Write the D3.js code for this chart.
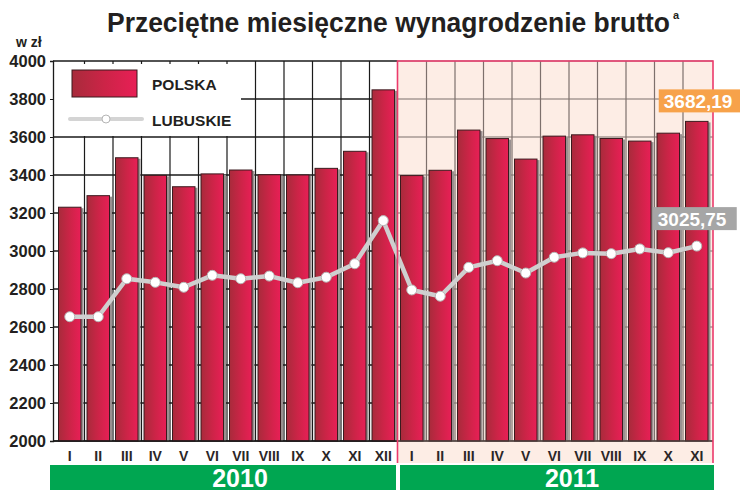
<!DOCTYPE html>
<html>
<head>
<meta charset="utf-8">
<script src="https://cdn.jsdelivr.net/npm/d3@7"></script>
<style>
  body { margin: 0; background: #fff; }
  svg { display: block; font-family: "Liberation Sans", Arial, sans-serif; }
</style>
</head>
<body>
<svg id="chart" width="740" height="490"></svg>
<script>
// data
const months = ["I","II","III","IV","V","VI","VII","VIII","IX","X","XI","XII",
                "I","II","III","IV","V","VI","VII","VIII","IX","X","XI"];
const years = ["2010", "2011"];
const polska = [3230.41, 3291.21, 3490.76, 3397.95, 3338.25, 3405.80, 3426.23, 3401.40, 3400.13, 3435.01, 3524.73, 3848.13,
                3396.94, 3424.83, 3636.42, 3591.73, 3483.74, 3604.56, 3611.52, 3592.23, 3578.43, 3620.11, 3682.19];
const lubuskie = [2654, 2654, 2854, 2835, 2809, 2872, 2854, 2868, 2833, 2862, 2933, 3160,
                  2795, 2762, 2914, 2949, 2884, 2967, 2990, 2986, 3011, 2991, 3025.75];
const yTicks = [2000, 2200, 2400, 2600, 2800, 3000, 3200, 3400, 3600, 3800, 4000];
const lastPolska = "3682,19";
const lastLubuskie = "3025,75";

const svg = d3.select("#chart");
const pLeft = 53, pRight = 713, pTop = 61, pBottom = 441;

const idx = d3.range(months.length);
const x = d3.scaleBand().domain(idx).range([55.5, 711]).padding(0);
const y = d3.scaleLinear().domain([2000, 4000]).range([pBottom, pTop]);
const step = x.step();
const split = x(12); // start of 2011

// gradient for the bars
const defs = svg.append("defs");
const grad = defs.append("linearGradient").attr("id", "barGrad")
  .attr("x1", 0).attr("x2", 1).attr("y1", 0).attr("y2", 0);
grad.append("stop").attr("offset", "0%").attr("stop-color", "#a82b3b");
grad.append("stop").attr("offset", "50%").attr("stop-color", "#cc2447");
grad.append("stop").attr("offset", "100%").attr("stop-color", "#e81f56");

// 2011 background
svg.append("rect")
  .attr("x", split).attr("y", pTop)
  .attr("width", pRight - split).attr("height", 463 - pTop)
  .attr("fill", "#fdede5");

// horizontal grid
const grid = svg.append("g");
yTicks.forEach(t => {
  grid.append("line")
    .attr("x1", pLeft).attr("x2", split)
    .attr("y1", y(t)).attr("y2", y(t))
    .attr("stroke", "#1a1a1a").attr("stroke-width", 1.3);
  grid.append("line")
    .attr("x1", split).attr("x2", pRight)
    .attr("y1", y(t)).attr("y2", y(t))
    .attr("stroke", "#7d706c").attr("stroke-width", 1.2);
});

// vertical grid at month boundaries
idx.slice(1).forEach(i => {
  if (i == 12) return;
  grid.append("line")
    .attr("x1", x(i) + 0.5).attr("x2", x(i) + 0.5)
    .attr("y1", pTop).attr("y2", pBottom)
    .attr("stroke", i < 12 ? "#1a1a1a" : "#7d706c")
    .attr("stroke-width", 1.2);
});

// legend box hides the grid behind it
svg.append("rect")
  .attr("x", pLeft + 1).attr("y", 64)
  .attr("width", 187).attr("height", 72)
  .attr("fill", "#fff");

// bars
const barW = 22.5;
svg.append("g").selectAll("rect")
  .data(idx).enter().append("rect")
  .attr("x", i => x(i) + step / 2 - barW / 2 + 2.5)
  .attr("y", i => y(polska[i]) + 1)
  .attr("width", barW)
  .attr("height", i => pBottom - y(polska[i]) - 1)
  .attr("fill", "#9a9090");

svg.append("g").selectAll("rect")
  .data(idx).enter().append("rect")
  .attr("x", i => x(i) + step / 2 - barW / 2)
  .attr("y", i => y(polska[i]))
  .attr("width", barW)
  .attr("height", i => pBottom - y(polska[i]))
  .attr("fill", "url(#barGrad)")
  .attr("stroke", "#3b1a1e")
  .attr("stroke-width", 1);

// y axis
const yAxis = svg.append("g")
  .attr("transform", `translate(${pLeft},0)`)
  .call(d3.axisLeft(y).tickValues(yTicks).tickFormat(d3.format("d")).tickSize(3).tickPadding(4));
yAxis.select(".domain").attr("stroke", "#1a1a1a").attr("stroke-width", 1.3);
yAxis.selectAll(".tick line").attr("stroke", "#1a1a1a");
yAxis.selectAll("text")
  .attr("font-family", "'Liberation Sans', Arial, sans-serif")
  .attr("font-size", 16.5).attr("font-weight", "bold").attr("fill", "#231f20");

// bottom line
svg.append("line")
  .attr("x1", pLeft).attr("x2", split).attr("y1", pBottom).attr("y2", pBottom)
  .attr("stroke", "#1a1a1a").attr("stroke-width", 1.3);
svg.append("line")
  .attr("x1", split).attr("x2", pRight).attr("y1", pBottom).attr("y2", pBottom)
  .attr("stroke", "#4a3c3a").attr("stroke-width", 1.3);

// lubuskie line
const line = d3.line()
  .x(i => x(i) + step / 2)
  .y(i => y(lubuskie[i]));
svg.append("path")
  .datum(idx)
  .attr("d", line)
  .attr("fill", "none")
  .attr("stroke", "#cfcfcf")
  .attr("stroke-width", 4.5)
  .attr("stroke-linejoin", "round");
svg.append("g").selectAll("circle")
  .data(idx).enter().append("circle")
  .attr("cx", i => x(i) + step / 2)
  .attr("cy", i => y(lubuskie[i]))
  .attr("r", 5)
  .attr("fill", "#fff")
  .attr("stroke", "#b5b5b5")
  .attr("stroke-width", 1);

// 2011 border
svg.append("path")
  .attr("d", `M${split},463 V${pTop} H${pRight} V463`)
  .attr("fill", "none")
  .attr("stroke", "#ec3a6c")
  .attr("stroke-width", 1.6);

// month labels
svg.append("g").selectAll("text")
  .data(idx).enter().append("text")
  .attr("x", i => x(i) + step / 2)
  .attr("y", 461)
  .attr("text-anchor", "middle")
  .attr("font-family", "'Liberation Sans Narrow', 'Liberation Sans', Arial, sans-serif")
  .attr("font-size", 14)
  .attr("font-weight", "bold")
  .attr("fill", "#2b2627")
  .text(i => months[i]);

// year bars
const yearX = [[50, 396], [400, 714]];
const yearTextX = [240, 572];
years.forEach((yr, k) => {
  svg.append("rect")
    .attr("x", yearX[k][0]).attr("y", 465)
    .attr("width", yearX[k][1] - yearX[k][0]).attr("height", 25)
    .attr("fill", "#00a651");
  svg.append("text")
    .attr("x", yearTextX[k]).attr("y", 486.5)
    .attr("text-anchor", "middle")
    .attr("font-family", "'Liberation Sans Narrow', 'Liberation Sans', Arial, sans-serif")
    .attr("font-size", 25)
    .attr("font-weight", "bold")
    .attr("fill", "#fff")
    .text(yr);
});

// legend
svg.append("rect")
  .attr("x", 72).attr("y", 70).attr("width", 65).attr("height", 27)
  .attr("fill", "url(#barGrad)").attr("stroke", "#3b1a1e").attr("stroke-width", 1);
svg.append("line")
  .attr("x1", 70).attr("x2", 142).attr("y1", 119).attr("y2", 119)
  .attr("stroke", "#d4d4d4").attr("stroke-width", 4).attr("stroke-linecap", "round");
svg.append("circle")
  .attr("cx", 106).attr("cy", 119).attr("r", 4)
  .attr("fill", "#fff").attr("stroke", "#b5b5b5");
[["POLSKA", 90], ["LUBUSKIE", 126]].forEach(([t, ty]) => {
  svg.append("text")
    .attr("x", 152).attr("y", ty)
    .attr("font-size", 15.5).attr("font-weight", "bold").attr("fill", "#231f20")
    .text(t);
});

// value boxes
const lastI = months.length - 1;
const cx = x(lastI) + step / 2;
const boxes = [
  { text: lastPolska, fill: "#f7a24a", dx: -38, w: 82, top: y(polska[lastI]) - 32 },
  { text: lastLubuskie, fill: "#a6a6a6", dx: -44, w: 84, top: y(lubuskie[lastI]) - 39 }
];
boxes.forEach(b => {
  svg.append("rect")
    .attr("x", cx + b.dx).attr("y", b.top)
    .attr("width", b.w).attr("height", 23)
    .attr("fill", b.fill);
  svg.append("text")
    .attr("x", cx + b.dx + 5).attr("y", b.top + 19)
    .attr("font-size", 19).attr("font-weight", "bold").attr("fill", "#fff")
    .text(b.text);
});

// title with superscript
const title = svg.append("text")
  .attr("x", 107).attr("y", 32)
  .attr("font-size", 27).attr("font-weight", "bold").attr("fill", "#231f20");
title.append("tspan")
  .attr("textLength", 563).attr("lengthAdjust", "spacingAndGlyphs")
  .text("Przeciętne miesięczne wynagrodzenie brutto");
title.append("tspan")
  .attr("dx", 3).attr("dy", -13)
  .attr("font-size", 11)
  .text("a");

svg.append("text")
  .attr("x", 16).attr("y", 47)
  .attr("font-size", 14).attr("font-weight", "bold").attr("fill", "#231f20")
  .text("w zł");
</script>
</body>
</html>
